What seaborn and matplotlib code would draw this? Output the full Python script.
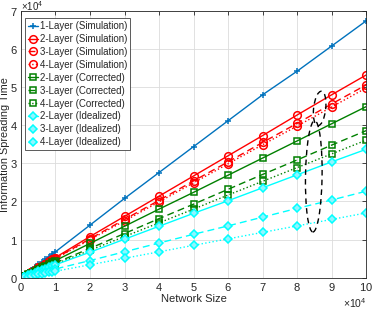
import matplotlib
matplotlib.use("Agg")
import matplotlib.pyplot as plt
import seaborn as sns
from matplotlib.patches import Ellipse
from matplotlib.ticker import ScalarFormatter, MultipleLocator

# --- datos (unidades x10^4) ---
network_size = [0.1, 0.2, 0.3, 0.4, 0.5, 0.6, 0.7, 0.8, 0.9, 1, 2, 3, 4, 5, 6, 7, 8, 9, 10]

one_layer_sim = [0.07, 0.14, 0.21, 0.28, 0.35, 0.41, 0.48, 0.55, 0.62, 0.68, 1.38, 2.08, 2.76, 3.44, 4.12, 4.80, 5.42, 6.08, 6.74]
two_layer_sim = [0.05, 0.11, 0.16, 0.21, 0.27, 0.32, 0.37, 0.43, 0.48, 0.53, 1.08, 1.61, 2.14, 2.67, 3.20, 3.73, 4.27, 4.80, 5.32]
three_layer_sim = [0.05, 0.10, 0.15, 0.20, 0.25, 0.30, 0.35, 0.40, 0.46, 0.51, 1.02, 1.53, 2.03, 2.54, 3.04, 3.55, 4.05, 4.56, 5.06]
four_layer_sim = [0.05, 0.10, 0.15, 0.20, 0.25, 0.30, 0.35, 0.40, 0.45, 0.50, 1.00, 1.49, 1.99, 2.49, 2.99, 3.49, 3.98, 4.48, 4.98]
two_layer_cor = [0.04, 0.09, 0.13, 0.18, 0.22, 0.27, 0.31, 0.36, 0.40, 0.45, 0.90, 1.35, 1.80, 2.24, 2.69, 3.14, 3.59, 4.04, 4.49]
three_layer_cor = [0.04, 0.08, 0.12, 0.15, 0.19, 0.23, 0.27, 0.31, 0.35, 0.39, 0.77, 1.16, 1.55, 1.93, 2.32, 2.71, 3.09, 3.48, 3.86]
four_layer_cor = [0.04, 0.07, 0.11, 0.14, 0.18, 0.22, 0.25, 0.29, 0.32, 0.36, 0.72, 1.08, 1.44, 1.80, 2.17, 2.53, 2.89, 3.25, 3.61]
two_layer_ideal = [0.03, 0.07, 0.10, 0.13, 0.17, 0.20, 0.24, 0.27, 0.30, 0.34, 0.67, 1.01, 1.35, 1.69, 2.02, 2.36, 2.70, 3.04, 3.37]
three_layer_ideal = [0.02, 0.05, 0.07, 0.09, 0.11, 0.14, 0.16, 0.18, 0.20, 0.23, 0.45, 0.68, 0.91, 1.14, 1.36, 1.59, 1.82, 2.04, 2.27]
four_layer_ideal = [0.02, 0.03, 0.05, 0.07, 0.09, 0.10, 0.12, 0.14, 0.15, 0.17, 0.34, 0.51, 0.68, 0.85, 1.02, 1.19, 1.36, 1.53, 1.70]

SCALE = 1e4
BLUE, RED, GREEN, CYAN = "#0072BD", "#FF0000", "#008000", "#00FFFF"
DASH = (0, (5, 3))

series = [
    ("1-Layer (Simulation)", one_layer_sim, BLUE, "-", "+", BLUE),
    ("2-Layer (Simulation)", two_layer_sim, RED, "-", "o", "none"),
    ("3-Layer (Simulation)", three_layer_sim, RED, DASH, "o", "none"),
    ("4-Layer (Simulation)", four_layer_sim, RED, ":", "o", "none"),
    ("2-Layer (Corrected)", two_layer_cor, GREEN, "-", "s", "none"),
    ("3-Layer (Corrected)", three_layer_cor, GREEN, DASH, "s", "none"),
    ("4-Layer (Corrected)", four_layer_cor, GREEN, ":", "s", "none"),
    ("2-Layer (Idealized)", two_layer_ideal, CYAN, "-", "D", "#8ff5ff"),
    ("3-Layer (Idealized)", three_layer_ideal, CYAN, DASH, "D", "#8ff5ff"),
    ("4-Layer (Idealized)", four_layer_ideal, CYAN, ":", "D", "#8ff5ff"),
]

sns.set_style("white")
plt.rcParams['font.family'] = ['Liberation Sans', 'DejaVu Sans']
plt.rcParams['mathtext.fontset'] = 'custom'
plt.rcParams['mathtext.rm'] = 'Liberation Sans'

fig = plt.figure(figsize=(3.73, 3.11), dpi=100)
ax = fig.add_axes([0.056, 0.107, 0.926, 0.858])

xs = [v * SCALE for v in network_size]
for label, vals, color, ls, marker, mfc in series:
    ms = {"+": 5, "o": 5.5, "s": 4, "D": 4}[marker]
    sns.lineplot(x=xs, y=[v * SCALE for v in vals], ax=ax, color=color, linestyle=ls,
                 linewidth=1.0, marker=marker, markersize=ms, mfc=mfc, mec=color,
                 mew=1.1, label=label)

# elipses punteadas
ax.add_patch(Ellipse((8.65e4, 4.44e4), 0.35e4, 0.91e4, angle=-7, fill=False,
                     edgecolor="black", linestyle=(0, (4, 3)), linewidth=1.0, zorder=5))
ax.add_patch(Ellipse((8.48e4, 2.66e4), 0.48e4, 2.92e4, angle=-1, fill=False,
                     edgecolor="black", linestyle=(0, (4, 3)), linewidth=1.0, zorder=5))

ax.set_xlim(0, 10e4)
ax.set_ylim(0, 7e4)
ax.xaxis.set_major_locator(MultipleLocator(1e4))
ax.yaxis.set_major_locator(MultipleLocator(1e4))
for axis in (ax.xaxis, ax.yaxis):
    fmt = ScalarFormatter(useMathText=True)
    fmt.set_powerlimits((4, 4))
    axis.set_major_formatter(fmt)
ax.xaxis.get_offset_text().set_fontsize(7.5)
ax.yaxis.get_offset_text().set_fontsize(7)
ax.yaxis.OFFSETTEXTPAD = 0.2

ax.grid(True, color="#dcdcdc", linewidth=0.6)
ax.set_axisbelow(True)
ax.tick_params(direction="in", length=3, width=0.6, labelsize=8, top=True, right=True, pad=2)
for sp in ax.spines.values():
    sp.set_visible(True)
    sp.set_color("#262626")
    sp.set_linewidth(0.6)

ax.set_xlabel("Network Size", fontsize=8, labelpad=1)
ax.set_ylabel("Information Spreading Time", fontsize=7.8)
ax.yaxis.set_label_coords(-0.032, 0.5)

leg = ax.legend(loc="upper left", bbox_to_anchor=(0.012, 0.973), borderaxespad=0,
                fontsize=7, handlelength=1.0, handletextpad=0.2, labelspacing=0.3,
                borderpad=0.3, fancybox=False, framealpha=1, edgecolor="#404040")
leg.get_frame().set_linewidth(0.6)

fig.savefig("out.png", dpi=100)
